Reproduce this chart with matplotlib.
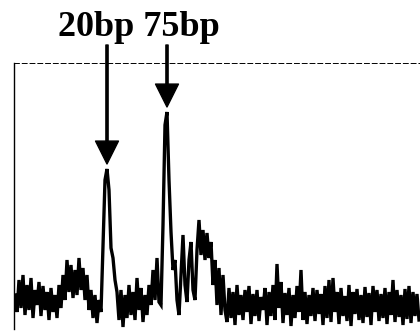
#!/usr/bin/env python3
"""
Capillary trace with the 20bp / 75bp peaks marked by arrows.
"""

import matplotlib

matplotlib.use("Agg")
import matplotlib.pyplot as plt
import numpy as np

# fluorescence, one value every ~2 px of the original trace
signal = [
    35, 18, 50, 22, 55, 15, 45, 20, 52, 12, 40, 25, 48, 14, 44, 20, 38, 10, 42, 18, 35, 12, 45, 22,
    55, 30, 70, 38, 65, 32, 60, 35, 72, 40, 62, 30, 55,
    20, 40, 12, 35, 7, 30,
    18, 85, 150, 161, 140, 82, 72, 50, 38,
    10, 40, 3, 35, 12, 45, 15, 38, 10, 52, 20, 42, 8, 35, 15, 45,
    25, 60, 30, 72, 28,
    25, 105, 205, 218, 150, 98, 60, 70,
    30, 15, 55, 95, 45, 28, 70, 88, 40, 30, 80, 110, 75, 100, 70, 97, 72, 88,
    45, 70, 25, 62, 15, 55, 20,
    8, 42, 12, 38, 5, 45, 15, 35, 10, 40,
    18, 44, 6, 36, 14, 40, 9, 33, 20, 42,
    5, 38, 14, 45, 10, 66, 22, 48, 7, 37,
    15, 42, 4, 35, 12, 44, 18, 60, 10, 38,
    6, 35, 14, 42, 9, 40, 16, 36, 5, 44,
    12, 50, 8, 52, 18, 38, 6, 42, 14, 34,
    9, 45, 4, 38, 16, 41, 10, 35, 7, 43,
    13, 37, 5, 44, 18, 40, 9, 36, 12, 42,
    6, 38, 15, 50, 8, 40, 13, 35, 5, 41,
    11, 44, 7, 38, 14, 36, 10,
]

peak_labels = ["20bp", "75bp"]
peak_index = [46, 76]


def main():
    fig = plt.figure(figsize=(4.2, 3.32), dpi=100)
    ax = fig.add_axes([14 / 420, 2 / 332, 406 / 420, 267 / 332])

    x = np.arange(len(signal))
    ax.plot(x, signal, color="black", linewidth=2.4, solid_joinstyle="miter")

    ax.set_xlim(-0.5, len(signal) - 0.5)
    ax.set_ylim(0, 267)
    ax.set_xticks([])
    ax.set_yticks([])

    ax.spines["right"].set_visible(False)
    ax.spines["bottom"].set_visible(False)
    ax.spines["left"].set_linewidth(1.0)
    ax.spines["left"].set_bounds(1, 267)
    ax.spines["top"].set_linewidth(0.7)
    ax.spines["top"].set_linestyle((0, (5, 3)))

    for label, idx in zip(peak_labels, peak_index):
        ax.annotate(
            "",
            xy=(idx, signal[idx] + 5),
            xytext=(idx, 285),
            arrowprops=dict(
                facecolor="black",
                edgecolor="black",
                width=1.6,
                headwidth=16.5,
                headlength=16.5,
                shrink=0,
            ),
            annotation_clip=False,
        )

    fig.text(
        138.5 / 420,
        1 - 36 / 332,
        " ".join(peak_labels),
        ha="center",
        va="baseline",
        fontfamily="Liberation Serif",
        fontweight="bold",
        fontsize=26,
    )

    fig.savefig("out.png", dpi=100)
    plt.close(fig)


if __name__ == "__main__":
    main()
